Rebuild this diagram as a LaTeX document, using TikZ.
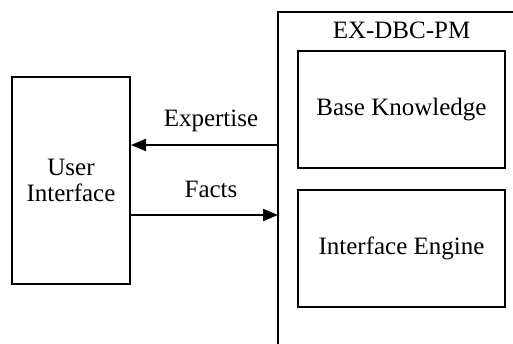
\documentclass[tikz,border=0pt]{standalone}
\usepackage{fontspec}
\setmainfont{Liberation Serif}
\usetikzlibrary{arrows.meta}
\begin{document}
\begin{tikzpicture}[x=1pt,y=1pt,
  box/.style={draw,line width=2pt,inner sep=0pt,align=center},
  lbl/.style={font=\fontsize{25}{26}\selectfont,inner sep=0pt},
  arr/.style={line width=2pt,-{Triangle[length=15pt,width=12pt]}},
  wall/.style={line width=2pt}]
\useasboundingbox (0,0) rectangle (513,343);
\node[box,minimum width=118pt,minimum height=207pt,font=\fontsize{25}{26}\selectfont] (ui) at (71,162.5) {User\\Interface};
\node[box,minimum width=207pt,minimum height=117pt,font=\fontsize{25}{26}\selectfont] (bk) at (401.5,233.5) {Base Knowledge};
\node[box,minimum width=207pt,minimum height=117pt,font=\fontsize{25}{26}\selectfont] (ie) at (401.5,94.5) {Interface Engine};
\coordinate (wb) at (278,-2);
\coordinate (wt) at (278,331);
\coordinate (wr) at (515,331);
\draw[wall] (wb) -- (wt) -- (wr);
\node[lbl,anchor=base] (title) at (401.5,304) {EX-DBC-PM};
\coordinate (ex) at (278,198);
\coordinate (fa) at (278,128);
\draw[arr] (ex) -- (ex -| ui.east);
\draw[arr] (fa -| ui.east) -- (fa);
\node[lbl,anchor=base] (lexp) at (211,216) {Expertise};
\node[lbl,anchor=base] (lfac) at (211,146) {Facts};
\end{tikzpicture}
\end{document}
